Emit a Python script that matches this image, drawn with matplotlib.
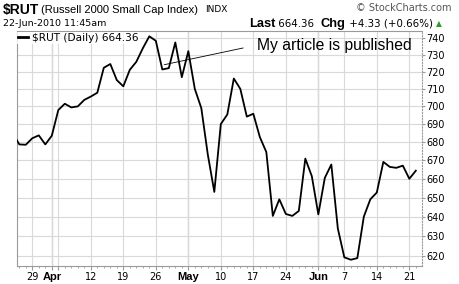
import numpy as np
import pandas as pd
import matplotlib
matplotlib.use('Agg')
import matplotlib.pyplot as plt
from matplotlib.ticker import FixedLocator, FixedFormatter, NullLocator

# trading days (Good Friday and Memorial Day closed)
dates = pd.bdate_range('2010-03-24', '2010-06-22').drop(pd.to_datetime(['2010-04-02', '2010-05-31']))

closes = [684.9, 678.7, 678.5, 682.1, 683.7, 678.7, 683.5, 697.9, 701.5, 699.4,
          700.0, 703.7, 705.6, 707.8, 722.3, 724.5, 715.1, 711.5, 721.1, 725.8,
          733.8, 741.0, 738.3, 721.3, 722.1, 737.3, 716.8, 732.1, 710.0, 699.0,
          673.1, 653.0, 690.0, 695.4, 716.0, 710.0, 694.2, 695.8, 682.8, 674.5,
          640.4, 649.1, 641.4, 640.4, 643.0, 670.9, 661.4, 641.2, 660.5, 667.7,
          633.9, 619.2, 618.0, 618.8, 640.0, 649.1, 652.7, 669.1, 666.4, 665.9,
          667.1, 660.0, 664.36]

tick_dates = ['2010-03-29', '2010-04-01', '2010-04-05', '2010-04-12', '2010-04-19', '2010-04-26',
              '2010-05-03', '2010-05-10', '2010-05-17', '2010-05-24', '2010-06-01',
              '2010-06-07', '2010-06-14', '2010-06-21']
tick_labels = ['29', 'Apr', '', '12', '19', '26', 'May', '10', '17', '24', 'Jun', '7', '14', '21']
month_dates = ['2010-04-01', '2010-05-03', '2010-06-01']
y_ticks = [620, 630, 640, 650, 660, 670, 680, 690, 700, 710, 720, 730, 740]

article_date = '2010-04-27'
article_text = 'My article is published'

x = np.arange(len(dates))
pos = {d: i for i, d in enumerate(dates)}
tick_x = [pos[pd.Timestamp(d)] for d in tick_dates]
month_x = [pos[pd.Timestamp(d)] for d in month_dates]

fig = plt.figure(figsize=(4.6, 2.84), dpi=100)
ax = fig.add_axes([0.0363, 0.0651, 0.8804, 0.8240])

ax.plot(x, closes, color='black', lw=1.3, label='$RUT (Daily) 664.36', zorder=3)

ax.set_yscale('log')
ax.set_ylim(615.1, 743.9)
ax.set_xlim(0.6, 62.9)

ax.yaxis.set_major_locator(FixedLocator(y_ticks))
ax.yaxis.set_major_formatter(FixedFormatter([str(v) for v in y_ticks]))
ax.yaxis.set_minor_locator(NullLocator())
ax.yaxis.tick_right()
ax.tick_params(axis='y', labelsize=7, length=2, pad=1.5, color='#999999', labelcolor='black')

ax.xaxis.set_major_locator(FixedLocator(tick_x))
ax.xaxis.set_major_formatter(FixedFormatter(tick_labels))
ax.xaxis.set_minor_locator(FixedLocator(x))
ax.tick_params(axis='x', which='major', labelsize=7, length=3, pad=2, color='#999999')
ax.tick_params(axis='x', which='minor', length=1.5, color='#999999')
for lbl in ax.get_xticklabels():
    if lbl.get_text() in ('Apr', 'May', 'Jun'):
        lbl.set_fontweight('bold')
        lbl.set_fontfamily('Liberation Sans')
        lbl.set_fontsize(8)

ax.grid(True, which='major', color='#d9d9d9', lw=0.8, zorder=0)
for mx in month_x:
    ax.axvline(mx, color='#b5b5b5', lw=0.9, zorder=1)

for s in ('left', 'top', 'bottom'):
    ax.spines[s].set_color('#9a9a9a')
    ax.spines[s].set_linewidth(0.8)
ax.spines['right'].set_color('#9a9a9a')
ax.spines['right'].set_linestyle(':')
ax.spines['right'].set_linewidth(0.8)

leg = ax.legend(loc='upper left', fontsize=7.6, handlelength=0.9, handletextpad=0.4,
                borderpad=0.1, borderaxespad=0.05, frameon=True, fancybox=False)
leg.get_frame().set_edgecolor('none')
leg.get_frame().set_facecolor('white')
leg.get_lines()[0].set_linewidth(2)

ai = pos[pd.Timestamp(article_date)]
ax.annotate(article_text, xy=(ai + 0.3, 724.1), xytext=(0.593, 0.942),
            textcoords='axes fraction', va='center', ha='left',
            fontsize=11.3, family='Liberation Sans',
            arrowprops=dict(arrowstyle='-', lw=0.6, color='black',
                            relpos=(0, 0.5), shrinkA=8, shrinkB=0))

# header
fig.text(3 / 460, 1 - 10 / 284, '$RUT', fontsize=10, fontweight='bold',
         family='Liberation Sans', va='center')
fig.text(41 / 460, 1 - 10 / 284, '(Russell 2000 Small Cap Index)', fontsize=8,
         family='Liberation Sans', va='center')
fig.text(205 / 460, 1 - 10 / 284, 'INDX', fontsize=6.5, va='center')
fig.text(452 / 460, 1 - 8 / 284, '\u00a9 StockCharts.com', fontsize=7, color='#555555',
         ha='right', va='center')
fig.text(3 / 460, 1 - 24 / 284, '22-Jun-2010 11:45am', fontsize=6.8, va='center')

# right side quote line, laid out piece by piece
renderer = fig.canvas.get_renderer()
pieces = [('Last', dict(fontweight='bold', family='Liberation Sans', fontsize=9.3)),
          (' 664.36  ', dict(fontsize=7.4)),
          ('Chg', dict(fontweight='bold', family='Liberation Sans', fontsize=9.3)),
          (' +4.33 (+0.66%) ', dict(fontsize=7.4)),
          ('\u25b2', dict(fontsize=5.5, color='#2a9d2a'))]
xp = 249
for s, kw in pieces:
    t = fig.text(xp / 460, 1 - 24 / 284, s, va='center', **kw)
    xp += t.get_window_extent(renderer).width

fig.savefig('out.png', dpi=100)
